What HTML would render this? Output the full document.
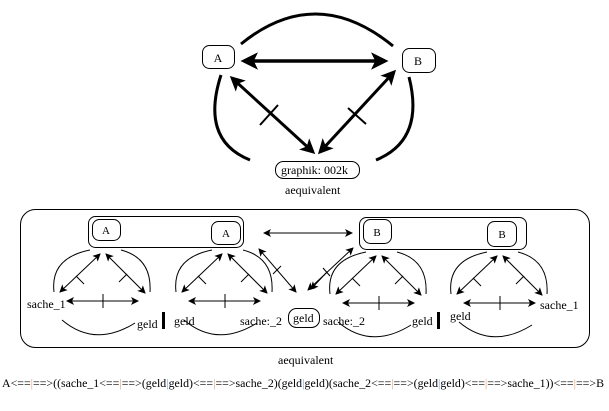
<!DOCTYPE html>
<html><head><meta charset="utf-8"><style>
html,body{margin:0;padding:0;background:#fff;width:609px;height:411px;overflow:hidden}
svg{display:block}
svg text{font-family:"Liberation Serif","DejaVu Serif",serif;font-size:12px;fill:#000}
</style></head><body>
<svg width="609" height="411" viewBox="0 0 609 411" xmlns="http://www.w3.org/2000/svg" font-family="Liberation Serif, DejaVu Serif, serif">
<defs>
<marker id="hb" markerWidth="5" markerHeight="5" refX="4" refY="2.5" orient="auto-start-reverse" markerUnits="strokeWidth"><path d="M0,0 L5,2.5 L0,5 L1.2,2.5 z" fill="#000"/></marker>
<marker id="hs" markerWidth="8" markerHeight="8" refX="7" refY="4" orient="auto-start-reverse" markerUnits="strokeWidth"><path d="M0,0 L8,4 L0,8 L2,4 z" fill="#000"/></marker>
</defs>
<!-- TOP -->
<g fill="none" stroke="#000">
<rect x="202.5" y="45.5" width="32" height="23" rx="7" stroke-width="1"/>
<rect x="402.5" y="48.5" width="33" height="24" rx="7" stroke-width="1"/>
<rect x="275.5" y="161.5" width="84" height="17" rx="8" stroke-width="1"/>
<line x1="244" y1="61" x2="385" y2="61" stroke-width="3.5" marker-start="url(#hb)" marker-end="url(#hb)"/>
<line x1="232" y1="78" x2="313" y2="152" stroke-width="3" marker-start="url(#hb)" marker-end="url(#hb)"/>
<line x1="394" y1="72" x2="320" y2="152" stroke-width="3" marker-start="url(#hb)" marker-end="url(#hb)"/>
<line x1="260" y1="125" x2="278" y2="105" stroke-width="2"/>
<line x1="348" y1="108" x2="366" y2="124" stroke-width="2"/>
<path d="M241,44 Q316,-17 393,46" stroke-width="3"/>
<path d="M221,75 Q200,140 250,160" stroke-width="3"/>
<path d="M409,77 Q425,140 376,160" stroke-width="3"/>
</g>
<text x="218" y="62" text-anchor="middle">A</text>
<text x="418" y="65" text-anchor="middle">B</text>
<text x="281" y="174">graphik: 002k</text>
<text x="285" y="194">aequivalent</text>

<!-- BOTTOM BOX -->
<rect x="20.5" y="209.5" width="569" height="138" rx="15" fill="none" stroke="#000"/>
<g fill="none" stroke="#000" stroke-width="1">
<rect x="88.5" y="216.5" width="155" height="31" rx="7"/>
<rect x="92.5" y="219.5" width="28" height="21" rx="7"/>
<rect x="211.5" y="221.5" width="29" height="23" rx="7"/>
<rect x="359.5" y="217.5" width="167" height="32" rx="7"/>
<rect x="363.5" y="219.5" width="28" height="24" rx="7"/>
<rect x="487.5" y="221.5" width="29" height="25" rx="7"/>
<rect x="288.5" y="308.5" width="31" height="19" rx="8"/>
<line x1="264" y1="233" x2="352" y2="233" marker-start="url(#hs)" marker-end="url(#hs)"/>
<line x1="259" y1="249" x2="296" y2="292" marker-start="url(#hs)" marker-end="url(#hs)"/>
<line x1="273" y1="274" x2="281" y2="266"/>
<line x1="353" y1="248" x2="308" y2="290" marker-start="url(#hs)" marker-end="url(#hs)"/>
<line x1="323" y1="268" x2="330" y2="276"/>
<path d="M327,272 L311,289" marker-end="url(#hs)"/>
</g>
<text x="106" y="234" style="font-size:11px" text-anchor="middle">A</text>
<text x="226" y="237" style="font-size:11px" text-anchor="middle">A</text>
<text x="377" y="236" style="font-size:11px" text-anchor="middle">B</text>
<text x="502" y="238" style="font-size:11px" text-anchor="middle">B</text>
<text x="293" y="322">geld</text>

<g id="t1" fill="none" stroke="#000" stroke-width="1">
<line x1="100" y1="254" x2="60" y2="292" marker-start="url(#hs)" marker-end="url(#hs)"/>
<line x1="106" y1="254" x2="145" y2="293" marker-start="url(#hs)" marker-end="url(#hs)"/>
<line x1="67" y1="301" x2="138" y2="301" marker-start="url(#hs)" marker-end="url(#hs)"/>
<line x1="103" y1="294" x2="103" y2="308"/>
<line x1="76" y1="276" x2="84" y2="284"/>
<line x1="119" y1="282" x2="127" y2="274"/>
<path d="M54,292 Q50,258 90,250"/>
<path d="M121,250 Q152,258 150,292"/>
<path d="M62,320 Q95,348 135,323"/>
</g>
<use href="#t1" transform="translate(122,0)"/>
<use href="#t1" transform="translate(276,2)"/>
<use href="#t1" transform="translate(397,2)"/>
<rect x="162" y="312" width="3" height="17" fill="#000"/>
<rect x="437" y="312" width="3" height="17" fill="#000"/>
<text x="27" y="308">sache_1</text>
<text x="137" y="328">geld</text>
<text x="174" y="325">geld</text>
<text x="240" y="325">sache:_2</text>
<text x="323" y="325">sache:_2</text>
<text x="412" y="325">geld</text>
<text x="450" y="320">geld</text>
<text x="540" y="309">sache_1</text>
<text x="278" y="364">aequivalent</text>

<text x="2" y="387" style="font-size:11.5px" textLength="602" lengthAdjust="spacingAndGlyphs">A&lt;==<tspan fill="#f0a070">|</tspan>==&gt;((sache_1&lt;==<tspan fill="#f0a070">|</tspan>==&gt;(geld<tspan fill="#80a0d0">|</tspan>geld)&lt;==<tspan fill="#f0a070">|</tspan>==&gt;sache_2)(geld<tspan fill="#80a0d0">|</tspan>geld)(sache_2&lt;==<tspan fill="#f0a070">|</tspan>==&gt;(geld<tspan fill="#80a0d0">|</tspan>geld)&lt;==<tspan fill="#f0a070">|</tspan>==&gt;sache_1))&lt;==<tspan fill="#f0a070">|</tspan>==&gt;B</text>
</svg>
</body></html>
